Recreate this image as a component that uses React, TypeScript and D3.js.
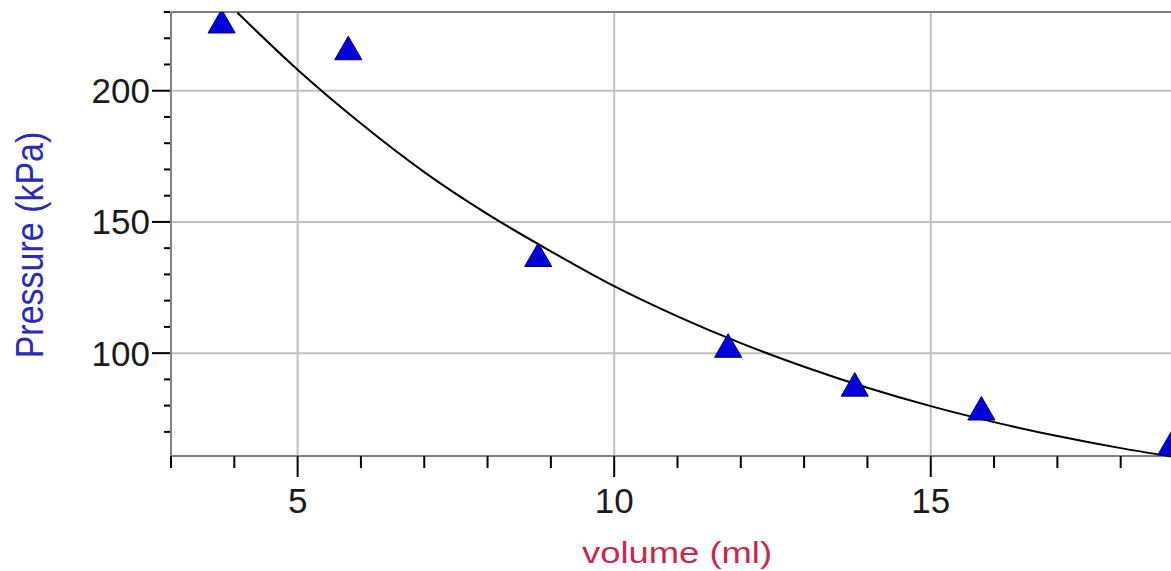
import React, { useEffect } from "react";
import * as d3 from "d3";

// measured points (volume in ml, pressure in kPa)
const volume = [3.8, 5.8, 8.8, 11.8, 13.8, 15.8, 18.8];
const pressure = [225.0, 214.8, 136.0, 101.4, 86.6, 77.5, 64.2];

// fitted curve
const fitVolume = [4.05, 5, 6, 7, 8, 9, 10, 11, 12, 13, 14, 15, 16, 17, 18, 18.8];
const fitPressure = [229.7, 208.0, 187.5, 169.0, 153.0, 138.8, 125.5, 114.0, 103.8, 94.8, 86.8, 79.8, 73.7, 68.4, 63.8, 60.6];

const xMajor = [5, 10, 15];
const xMinor = d3.range(3, 19, 1);
const yMajor = [100, 150, 200];
const yMinor = d3.range(70, 231, 10);

const xTitle = "volume (ml)";
const yTitle = "Pressure (kPa)";

const width = 1171;
const height = 571;
const left = 171;
const top = 12;
const bottom = 456;

const App = () => {
  useEffect(() => {
    document.body.style.margin = "0";
  }, []);

  const x = d3.scaleLinear().domain([3, 19]).range([left, 1184]);
  const y = d3.scaleLinear().domain([60.8, 230]).range([bottom, top]);

  const points = volume.map((v, i) => ({ v, p: pressure[i] }));
  const fit = fitVolume.map((v, i) => [x(v), y(fitPressure[i])] as [number, number]);
  const line = d3.line().curve(d3.curveMonotoneX);
  const tri = d3.symbol(d3.symbolTriangle, 320)();

  const font = "'Liberation Sans', Arial, sans-serif";

  return (
    <svg width={width} height={height} style={{ display: "block", background: "#fff" }} fontFamily={font}>
      <defs>
        <clipPath id="plot">
          <rect x={left} y={top} width={width - left} height={bottom - top + 2} />
        </clipPath>
      </defs>

      {/* grid */}
      <g stroke="#c0c0c0" strokeWidth={2}>
        {xMajor.map(t => (
          <line key={"gx" + t} x1={x(t)} x2={x(t)} y1={top} y2={bottom} />
        ))}
        {yMajor.map(t => (
          <line key={"gy" + t} x1={left} x2={width} y1={y(t)} y2={y(t)} />
        ))}
      </g>

      {/* frame */}
      <g stroke="#808080" strokeWidth={2}>
        <line x1={left} x2={width} y1={top} y2={top} />
        <line x1={left} x2={left} y1={top} y2={bottom} />
        <line x1={left} x2={width} y1={bottom} y2={bottom} />
      </g>

      {/* ticks */}
      <g stroke="#000" strokeWidth={2}>
        {xMinor.map(t => (
          <line key={"tx" + t} x1={x(t)} x2={x(t)} y1={bottom} y2={bottom + (xMajor.includes(t) ? 21 : 12)} />
        ))}
        {yMinor.map(t => (
          <line key={"ty" + t} x1={left - (yMajor.includes(t) ? 19 : 7)} x2={left - 1} y1={y(t)} y2={y(t)} />
        ))}
      </g>

      {/* tick labels */}
      <g fill="#1a1a1a" fontSize={35}>
        {xMajor.map(t => (
          <text key={"lx" + t} x={x(t)} y={513} textAnchor="middle">{t}</text>
        ))}
        {yMajor.map(t => (
          <text key={"ly" + t} x={150} y={y(t) + 12.5} textAnchor="end">{t}</text>
        ))}
      </g>

      <g clipPath="url(#plot)">
        <path d={line(fit) || ""} fill="none" stroke="#000" strokeWidth={2} />
        {points.map((d, i) => (
          <path key={i} d={tri || ""} transform={`translate(${x(d.v)},${y(d.p)})`} fill="#0000d8" stroke="#00007a" strokeWidth={1} />
        ))}
      </g>

      {/* axis titles */}
      <text x={677} y={563} textAnchor="middle" fontSize={30} fill="#c8284e" textLength={190} lengthAdjust="spacingAndGlyphs">
        {xTitle}
      </text>
      <text transform="translate(43,245) scale(1.15,1) rotate(-90)" textAnchor="middle" fontSize={34} fill="#2a2ab8">
        {yTitle}
      </text>
    </svg>
  );
};

export default App;
